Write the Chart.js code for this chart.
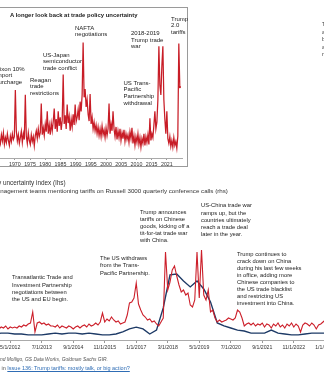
<!DOCTYPE html>
<html><head><meta charset="utf-8">
<script src="https://cdn.jsdelivr.net/npm/chart.js@4.4.1/dist/chart.umd.min.js"></script>
<style>
html,body{margin:0;padding:0;width:324px;height:375px;overflow:hidden;background:#fff;font-family:"Liberation Sans",Arial,sans-serif;}
#wrap{position:relative;width:324px;height:375px;overflow:hidden;}
canvas{position:absolute;}
.t{position:absolute;white-space:pre;color:#222;}
.g{filter:grayscale(1);}
.pre{position:absolute;right:100%;top:0;white-space:pre;}
.ia{font-size:6px;line-height:6.7px;}
.ma{font-size:5.8px;line-height:7.2px;}
.lg{font-size:6.2px;line-height:8px;color:#333;}
.src{font-size:4.9px;line-height:8px;color:#555;font-style:italic;}
.src a{color:#2f6db5;text-decoration:underline;font-style:normal;}
#box{position:absolute;left:-20px;top:7px;width:208px;height:160px;border:1px solid #9a9a9a;box-sizing:border-box;}
</style></head>
<body><div id="wrap">
<div id="box"></div>
<canvas id="inset" width="226" height="148" style="left:-40px;top:20px;"></canvas>
<canvas id="main" width="460" height="168" style="left:-60px;top:190px;"></canvas>

<div class="t g" style="left:10px;top:11px;font-size:5.9px;line-height:8px;font-weight:bold;color:#1a1a1a;">A longer look back at trade policy uncertainty</div>
<div class="t g ia" style="left:-4.5px;top:65.5px;">Nixon 10%
import
surcharge</div>
<div class="t g ia" style="left:30px;top:76.5px;">Reagan
trade
restrictions</div>
<div class="t g ia" style="left:43px;top:51.5px;">US-Japan
semiconductor
trade conflict</div>
<div class="t g ia" style="left:75px;top:24.6px;">NAFTA
negotiations</div>
<div class="t g ia" style="left:131px;top:29.8px;">2018-2019
Trump trade
war</div>
<div class="t g ia" style="left:123.5px;top:79.6px;">US Trans-
Pacific
Partnership
withdrawal</div>
<div class="t g ia" style="left:171px;top:15.6px;">Trump
2.0
tariffs</div>

<div class="t g ma" style="left:322px;top:21.3px;line-height:7.5px;color:#444;">Trump
announces
broad
and
reciprocal</div>

<div class="t g lg" style="left:3px;top:178.5px;font-size:6.4px;"><span class="pre">Trade policy </span>uncertainty index (lhs)</div>
<div class="t g lg" style="left:0.3px;top:186.5px;"><span class="pre">% of ma</span>nagement teams mentioning tariffs on Russell 3000 quarterly conference calls (rhs)</div>

<div class="t g ma" style="left:12px;top:274.4px;">Transatlantic Trade and
Investment Partnership
negotiations between
the US and EU begin.</div>
<div class="t g ma" style="left:100px;top:254.5px;line-height:7.5px;">The US withdraws
from the Trans-
Pacific Partnership.</div>
<div class="t g ma" style="left:140px;top:208.5px;line-height:7px;">Trump announces
tariffs on Chinese
goods, kicking off a
tit-for-tat trade war
with China.</div>
<div class="t g ma" style="left:201px;top:202.3px;line-height:7.3px;">US-China trade war
ramps up, but the
countries ultimately
reach a trade deal
later in the year.</div>
<div class="t g ma" style="left:237px;top:250.5px;line-height:7.1px;">Trump continues to
crack down on China
during his last few weeks
in office, adding more
Chinese companies to
the US trade blacklist
and restricting US
investment into China.</div>

<div class="t g src" style="left:0px;top:356px;"><span class="pre">Source: Caldara, Iacoviello, Prestipino, Raffo, a</span>nd Molligo, GS Data Works, Goldman Sachs GIR.</div>
<div class="t src" style="left:1.5px;top:364px;font-style:normal;font-size:5.5px;"><span class="pre">Note: This chart first appeared </span>in <a>Issue 136: Trump tariffs: mostly talk, or big action?</a></div>
</div>

<script>
// ---------- Inset: historical trade policy uncertainty (values every 4 months from 1965) ----------
const insetStartYear = 1965;
const insetValues = [
  80, 60, 96,   70, 104, 56,   84, 64, 100,   72, 52, 90,   68, 100, 76,      // 1965-1969
  88, 280, 110, 70, 96, 60,    84, 110, 64,   100, 76, 260, 90, 60, 104,     // 1970-1974
  72, 56, 96,   68, 88, 50,    92, 112, 80,   120, 88, 104, 224, 96, 124,    // 1975-1979
  92, 140, 108, 192, 100, 136, 96, 144, 112,  150, 204, 120, 160, 108, 192,  // 1980-1984
  132, 168, 116, 156, 344, 140, 176, 120, 220, 144, 172, 112, 160, 128, 180, // 1985-1989
  136, 220, 150, 168, 200, 156, 232, 192, 260, 476, 250, 284, 210, 240, 180, // 1990-1994
  152, 264, 140, 168, 120, 148, 112, 136, 100, 128, 92, 120, 88, 132, 96,    // 1995-1999
  116, 84, 124, 92, 120, 224,  100, 140, 112, 192, 120, 88, 128, 76, 112,    // 2000-2004
  84, 120, 72,  104, 80, 116,  68, 100, 76,   96, 64, 108,  80, 124, 60,     // 2005-2009
  92, 52, 88,   64, 100, 56,   84, 44, 80,    60, 100, 52,  88, 64, 96,      // 2010-2014
  56, 164, 72,  100, 84, 136,  192, 120, 148, 240, 460, 300, 260, 380, 460,  // 2015-2019
  240, 160, 100, 192, 80, 60,  88, 48, 72,    44, 84, 52,   68, 40, 90,      // 2020-2024
  472, 292                                                                  // 2025
];
const insetTickLabels = ['1970','1975','1980','1985','1990','1995','2000','2005','2010','2015','2021'];

// ---------- Main chart ----------
// Trade policy uncertainty index (lhs), monthly from Oct 2011
const mainRedStart = '2011-10';
const mainRedValues = [
  48, 52, 44,                                           // 2011 Q4
  52, 48, 56, 44, 52, 48, 52, 48, 56, 52, 60, 56,       // 2012
  64, 68, 112, 32, 68, 72, 64, 68, 60, 64, 56, 56,      // 2013
  52, 60, 48, 56, 52, 48, 56, 52, 44, 52, 56, 48,       // 2014
  56, 60, 52, 64, 56, 60, 68, 60, 72, 108, 72, 84,      // 2015
  76, 92, 80, 72, 76, 64, 68, 72, 100, 148, 152, 168,   // 2016
  228, 144, 120, 100, 92, 80, 84, 72, 76, 64, 56, 72,   // 2017
  88, 352, 200, 232, 280, 296, 256, 220, 192, 200, 180, 188, // 2018
  140, 132, 160, 352, 168, 360, 180, 160, 200, 112, 120, 88, // 2019
  72, 80, 72, 76, 80, 88, 84, 80, 88, 120, 112, 88,     // 2020
  56, 64, 68, 60, 68, 56, 64, 60, 68, 52, 64, 60,       // 2021
  48, 64, 56, 68, 52, 60, 48, 64, 56, 68, 52, 64,       // 2022
  56, 32, 60, 68, 64, 56, 68, 60, 44, 60, 64, 72,       // 2023
  80, 88                                                // 2024
];
// % of management teams mentioning tariffs (rhs), quarterly from Oct 2011
const mainBlueStart = '2011-10';
const mainBlueValues = [
  2.0,
  2.3, 2.3, 2.0, 2.0,     // 2012
  1.7, 1.7, 1.7, 2.0,     // 2013
  2.3, 2.0, 2.3, 2.3,     // 2014
  2.0, 2.3, 2.0, 1.7,     // 2015
  1.7, 2.0, 2.7, 3.7,     // 2016
  4.3, 3.7, 2.0, 3.3,     // 2017
  10.7, 21.7, 22.0, 19.7, // 2018
  17.7, 19.7, 17.0, 12.7, // 2019
  5.7, 4.7, 4.0, 3.3,     // 2020
  3.0, 2.3, 2.3, 2.3,     // 2021
  3.3, 2.3, 2.0, 1.7,     // 2022
  1.7, 2.0, 2.3, 2.3,     // 2023
  2.3                     // 2024
];
const mainTickLabels = ['5/1/2012','7/1/2013','9/1/2014','11/1/2015','1/1/2017','3/1/2018','5/1/2019','7/1/2020','9/1/2021','11/1/2022','1/1/2024'];

// ---------- helpers ----------
const monthIndex = s => { const [y, m] = s.split('-').map(Number); return (y - 2012) * 12 + (m - 1); };
const dateIndex = s => { const [m, d, y] = s.split('/').map(Number); return (y - 2012) * 12 + (m - 1); };
const FONT = 'Liberation Sans, Arial, sans-serif';

const insetData = insetValues.map((v, i) => ({ x: insetStartYear + i / 3, y: v }));
const insetTicks = insetTickLabels.map((l, k) => 1970 + 2 / 12 + k * 61 / 12);
new Chart(document.getElementById('inset'), {
  type: 'line',
  data: { datasets: [{
    data: insetData, borderColor: '#c81d27', borderWidth: 1.25, tension: 0,
    pointRadius: insetData.map((p, i) => i === insetData.length - 1 ? 1.2 : 0),
    pointBackgroundColor: '#c81d27', pointBorderWidth: 0
  }]},
  options: {
    responsive: false, animation: false, devicePixelRatio: 1,
    layout: { padding: 0 },
    plugins: { legend: { display: false }, tooltip: { enabled: false } },
    scales: {
      x: {
        type: 'linear', min: 1953.161, max: 2026.065,
        afterBuildTicks: s => { s.ticks = insetTicks.map(v => ({ value: v })); },
        afterFit: s => { s.height = 10; },
        grid: { display: true, drawOnChartArea: false, drawTicks: true, tickLength: 2, color: '#999' },
        border: { display: true, color: '#aaa', width: 1 },
        ticks: { autoSkip: false, maxRotation: 0, padding: 1, color: '#333',
          font: { size: 5.3, family: FONT },
          callback: (v, i) => insetTickLabels[i] }
      },
      y: { display: false, min: 0, max: 552 }
    }
  }
});

const r0 = monthIndex(mainRedStart), b0 = monthIndex(mainBlueStart);
new Chart(document.getElementById('main'), {
  type: 'line',
  data: { datasets: [
    { label: 'Trade policy uncertainty index (lhs)',
      data: mainRedValues.map((v, i) => ({ x: r0 + i, y: v })),
      borderColor: '#cc1f2a', borderWidth: 1.1, pointRadius: 0, tension: 0, yAxisID: 'yL' },
    { label: '% of management teams mentioning tariffs on Russell 3000 quarterly conference calls (rhs)',
      data: mainBlueValues.map((v, i) => ({ x: b0 + 3 * i, y: v })),
      borderColor: '#1d3a66', borderWidth: 1.4, pointRadius: 0, tension: 0, yAxisID: 'yR' }
  ]},
  options: {
    responsive: false, animation: false, devicePixelRatio: 1,
    layout: { padding: 0 },
    plugins: { legend: { display: false }, tooltip: { enabled: false } },
    scales: {
      x: {
        type: 'linear', min: -27.2, max: 177.2,
        afterBuildTicks: s => { s.ticks = mainTickLabels.map(l => ({ value: dateIndex(l) })); },
        afterFit: s => { s.height = 18; },
        grid: { display: true, drawOnChartArea: false, drawTicks: true, tickLength: 3, color: '#999' },
        border: { display: true, color: '#aaa', width: 1 },
        ticks: { autoSkip: false, maxRotation: 0, padding: 1.5, color: '#333',
          font: { size: 5.2, family: FONT },
          callback: (v, i) => mainTickLabels[i] }
      },
      yL: { display: false, min: 0, max: 600, position: 'left' },
      yR: { display: false, min: 0, max: 50, position: 'right' }
    }
  }
});
</script>
</body></html>
